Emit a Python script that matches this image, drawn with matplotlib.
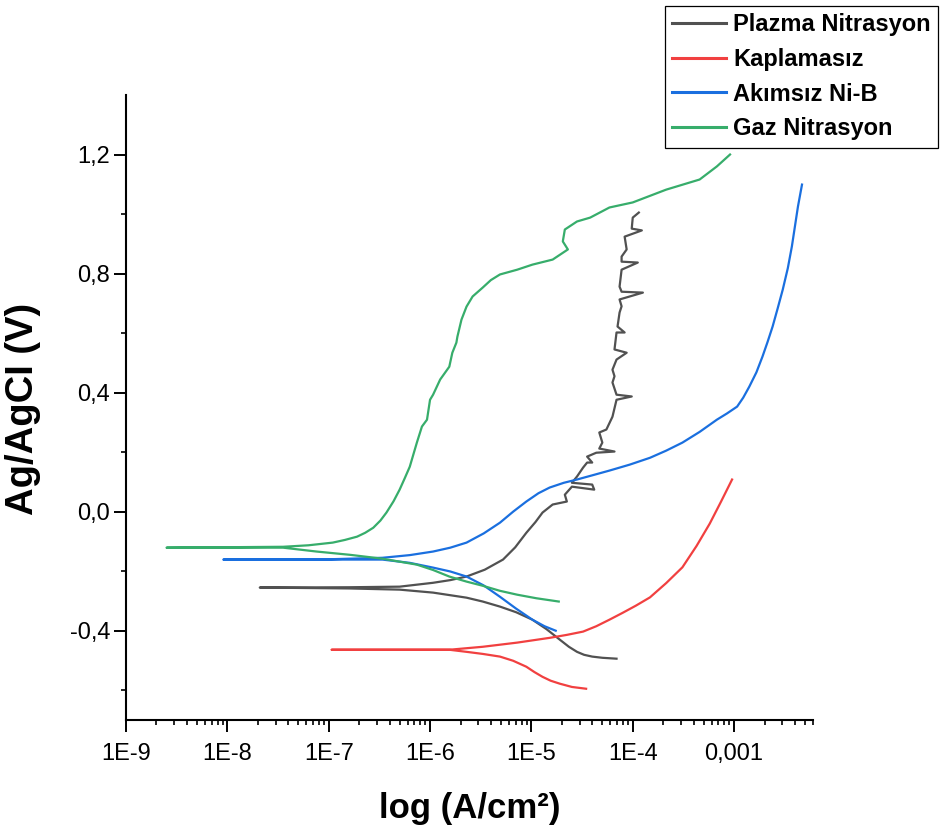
import numpy as np
import matplotlib
matplotlib.use('Agg')
import matplotlib.pyplot as plt
from matplotlib.ticker import FixedLocator, FuncFormatter, LogLocator, NullFormatter

plt.rcParams['font.family'] = ['Liberation Sans', 'DejaVu Sans']

# log10(i / A cm^-2) ve potansiyel (V), okunan değerler
# Plazma Nitrasyon
plz_cat_logi = [-7.68, -6.80, -6.30, -5.97, -5.64, -5.48, -5.31, -5.15, -4.99, -4.85,
                -4.72, -4.63, -4.55, -4.48, -4.40, -4.30, -4.16]
plz_cat_E = [-0.255, -0.258, -0.262, -0.272, -0.289, -0.302, -0.319, -0.338, -0.363, -0.395,
             -0.430, -0.454, -0.471, -0.481, -0.487, -0.491, -0.494]
plz_an_logi = [-7.68, -6.80, -6.30, -5.97, -5.80, -5.64, -5.46, -5.28, -5.16, -5.05,
               -4.96, -4.89, -4.79, -4.65, -4.67, -4.60, -4.38, -4.40, -4.60, -4.55,
               -4.49, -4.45, -4.40, -4.45, -4.36, -4.18, -4.33, -4.30, -4.33, -4.26,
               -4.20, -4.16, -4.01, -4.16, -4.20, -4.18, -4.20, -4.16, -4.06, -4.18,
               -4.16, -4.08, -4.15, -4.13, -4.11, -4.13, -3.90, -4.11, -4.13, -4.11,
               -3.95, -4.11, -4.11, -4.06, -4.08, -3.91, -4.01, -4.00, -3.94]
plz_an_E = [-0.255, -0.254, -0.252, -0.239, -0.230, -0.218, -0.195, -0.161, -0.120, -0.071,
            -0.035, -0.003, 0.024, 0.034, 0.057, 0.084, 0.074, 0.091, 0.097, 0.118,
            0.148, 0.165, 0.165, 0.185, 0.198, 0.202, 0.212, 0.232, 0.266, 0.276,
            0.319, 0.376, 0.387, 0.393, 0.434, 0.455, 0.477, 0.511, 0.534, 0.545,
            0.602, 0.602, 0.622, 0.669, 0.690, 0.713, 0.736, 0.739, 0.756, 0.813,
            0.837, 0.840, 0.857, 0.881, 0.924, 0.945, 0.951, 0.988, 1.005]

# Kaplamasız
kap_cat_logi = [-6.97, -5.81, -5.64, -5.48, -5.31, -5.18, -5.05, -4.97, -4.89, -4.81,
                -4.72, -4.60, -4.46]
kap_cat_E = [-0.464, -0.464, -0.471, -0.478, -0.487, -0.501, -0.521, -0.539, -0.555, -0.568,
             -0.578, -0.589, -0.595]
kap_an_logi = [-6.97, -5.81, -5.48, -5.14, -4.82, -4.65, -4.49, -4.36, -4.23, -4.10,
               -3.97, -3.83, -3.67, -3.51, -3.37, -3.24, -3.13, -3.02]
kap_an_E = [-0.464, -0.464, -0.454, -0.440, -0.424, -0.414, -0.403, -0.385, -0.363, -0.340,
            -0.316, -0.288, -0.240, -0.187, -0.115, -0.040, 0.033, 0.108]

# Akımsız Ni-B
nib_cat_logi = [-8.04, -6.47, -6.20, -5.97, -5.80, -5.64, -5.47, -5.31, -5.15, -4.99,
                -4.87, -4.76]
nib_cat_E = [-0.161, -0.161, -0.172, -0.188, -0.201, -0.218, -0.248, -0.286, -0.326, -0.363,
             -0.385, -0.400]
nib_an_logi = [-8.04, -7.00, -6.47, -6.20, -5.97, -5.80, -5.64, -5.47, -5.31, -5.18,
               -5.05, -4.93, -4.82, -4.68, -4.55, -4.40, -4.23, -4.03, -3.83, -3.67,
               -3.51, -3.34, -3.17, -3.07, -2.97, -2.91, -2.85, -2.78, -2.72, -2.67,
               -2.62, -2.57, -2.52, -2.47, -2.43, -2.40, -2.37, -2.33]
nib_an_E = [-0.161, -0.160, -0.155, -0.146, -0.134, -0.121, -0.104, -0.073, -0.037, 0.000,
            0.034, 0.062, 0.081, 0.097, 0.108, 0.122, 0.138, 0.158, 0.181, 0.205,
            0.232, 0.268, 0.309, 0.330, 0.353, 0.383, 0.420, 0.468, 0.521, 0.570,
            0.622, 0.683, 0.746, 0.818, 0.891, 0.958, 1.025, 1.099]

# Gaz Nitrasyon
gaz_cat_logi = [-8.60, -7.45, -7.12, -6.79, -6.47, -6.13, -5.97, -5.81, -5.64, -5.48,
                -5.31, -5.14, -4.95, -4.73]
gaz_cat_E = [-0.121, -0.121, -0.134, -0.145, -0.158, -0.178, -0.196, -0.218, -0.235, -0.249,
             -0.266, -0.279, -0.291, -0.302]
gaz_an_logi = [-8.60, -7.45, -7.20, -6.96, -6.84, -6.72, -6.64, -6.56, -6.49, -6.43,
               -6.36, -6.30, -6.25, -6.20, -6.13, -6.08, -6.03, -6.00, -5.97, -5.90,
               -5.81, -5.78, -5.74, -5.73, -5.69, -5.64, -5.58, -5.48, -5.40, -5.31,
               -5.14, -4.99, -4.79, -4.64, -4.69, -4.67, -4.55, -4.42, -4.23, -4.00,
               -3.67, -3.34, -3.17, -3.04]
gaz_an_E = [-0.121, -0.118, -0.113, -0.104, -0.095, -0.084, -0.071, -0.054, -0.030, -0.003,
            0.035, 0.074, 0.112, 0.151, 0.232, 0.286, 0.309, 0.376, 0.393, 0.444,
            0.487, 0.534, 0.568, 0.588, 0.645, 0.689, 0.723, 0.753, 0.778, 0.797,
            0.813, 0.830, 0.847, 0.881, 0.908, 0.948, 0.975, 0.988, 1.022, 1.039,
            1.082, 1.116, 1.160, 1.200]

series = [
    ('Plazma Nitrasyon', '#515151', plz_cat_logi, plz_cat_E, plz_an_logi, plz_an_E),
    ('Kaplamasız', '#F14040', kap_cat_logi, kap_cat_E, kap_an_logi, kap_an_E),
    ('Akımsız Ni-B', '#1A6FDF', nib_cat_logi, nib_cat_E, nib_an_logi, nib_an_E),
    ('Gaz Nitrasyon', '#37AD6B', gaz_cat_logi, gaz_cat_E, gaz_an_logi, gaz_an_E),
]

xtick_vals = [1e-9, 1e-8, 1e-7, 1e-6, 1e-5, 1e-4, 1e-3]
xtick_labels = ['1E-9', '1E-8', '1E-7', '1E-6', '1E-5', '1E-4', '0,001']
ytick_major = [-0.4, 0.0, 0.4, 0.8, 1.2]
ytick_minor = [-0.6, -0.2, 0.2, 0.6, 1.0]

fig = plt.figure(figsize=(9.43, 8.34), dpi=100)
ax = fig.add_axes([0.1336, 0.1367, 0.7285, 0.7494])

for name, col, cl, ce, al, ae in series:
    logi = np.concatenate([np.array(cl)[::-1], np.array(al)])
    E = np.concatenate([np.array(ce)[::-1], np.array(ae)])
    ax.plot(10 ** logi, E, color=col, lw=1.6, label=name,
            solid_joinstyle='round')

ax.set_xscale('log')
ax.set_xlim(1e-9, 6e-3)
ax.set_ylim(-0.7, 1.4)

ax.set_xticks(xtick_vals)
ax.set_xticklabels(xtick_labels)
ax.xaxis.set_minor_locator(LogLocator(base=10, subs=np.arange(2, 10)))
ax.xaxis.set_minor_formatter(NullFormatter())

ax.yaxis.set_major_locator(FixedLocator(ytick_major))
ax.yaxis.set_minor_locator(FixedLocator(ytick_minor))
ax.yaxis.set_major_formatter(FuncFormatter(lambda v, p: ('%.1f' % v).replace('.', ',')))

for s in ['top', 'right']:
    ax.spines[s].set_visible(False)
for s in ['left', 'bottom']:
    ax.spines[s].set_linewidth(1.5)

ax.tick_params(which='major', direction='out', length=8.5, width=1.4, labelsize=17)
ax.tick_params(which='minor', direction='out', length=3.6, width=1.2)
ax.tick_params(axis='x', which='major', pad=8)
ax.tick_params(axis='y', which='major', pad=3)

ax.set_xlabel('log (A/cm²)', fontsize=25, fontweight='bold')
ax.set_ylabel('Ag/AgCI (V)', fontsize=27.5, fontweight='bold')
ax.xaxis.set_label_coords(0.5, -0.115)
ax.yaxis.set_label_coords(-0.123, 0.498)

leg = fig.legend(loc='upper right', bbox_to_anchor=(938 / 943, 1 - 6 / 834),
                 borderaxespad=0, fancybox=False, framealpha=1,
                 edgecolor='black', handlelength=2.3, handletextpad=0.3,
                 labelspacing=0.5, borderpad=0.3,
                 prop={'size': 17, 'weight': 'bold'})
leg.get_frame().set_linewidth(0.9)
for ln in leg.get_lines():
    ln.set_linewidth(2.2)

fig.savefig('out.png', dpi=100)
